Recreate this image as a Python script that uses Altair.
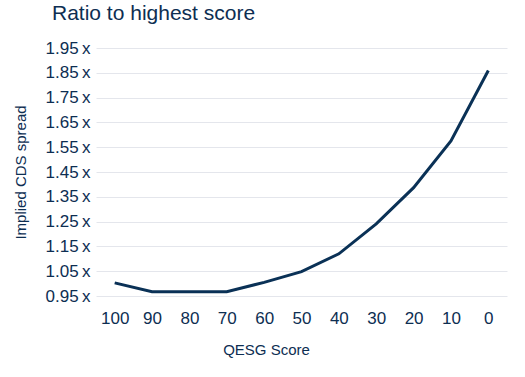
import altair as alt
import pandas as pd

scores = ["100", "90", "80", "70", "60", "50", "40", "30", "20", "10", "0"]
ratios = [1.003, 0.967, 0.967, 0.967, 1.005, 1.048, 1.12, 1.241, 1.387, 1.575, 1.859]
y_ticks = [0.95, 1.05, 1.15, 1.25, 1.35, 1.45, 1.55, 1.65, 1.75, 1.85, 1.95]

df = pd.DataFrame({"score": scores, "ratio": ratios})

TEXT = "#0d2e52"
LINE = "#0a3156"
FONT = "Liberation Sans"

chart = (
    alt.Chart(df)
    .mark_line(color=LINE, strokeWidth=3)
    .encode(
        x=alt.X(
            "score:N",
            sort=scores,
            scale=alt.Scale(type="point", padding=0.5),
            axis=alt.Axis(
                title="QESG Score",
                labelAngle=0,
                labelFontSize=17,
                labelColor=TEXT,
                labelFont=FONT,
                labelPadding=14,
                ticks=False,
                domain=False,
                grid=False,
                titleFontSize=15,
                titleFontWeight="normal",
                titleColor=TEXT,
                titleFont=FONT,
                titlePadding=16,
                titleX=170,
            ),
        ),
        y=alt.Y(
            "ratio:Q",
            scale=alt.Scale(domain=[0.95, 1.95], nice=False, zero=False),
            axis=alt.Axis(
                title="Implied CDS spread",
                values=y_ticks,
                labelExpr="format(datum.value, '.2f') + '\u2009x'",
                labelFontSize=17,
                labelColor=TEXT,
                labelFont=FONT,
                labelPadding=6,
                ticks=False,
                domain=False,
                grid=True,
                gridColor="#e4e6ec",
                gridWidth=1,
                titleFontSize=15,
                titleFontWeight="normal",
                titleColor=TEXT,
                titleFont=FONT,
                titleX=-68,
            ),
        ),
    )
    .properties(
        width=411,
        height=248,
        title=alt.TitleParams(
            "Ratio to highest score",
            anchor="start",
            frame="group",
            fontSize=21,
            fontWeight="normal",
            font=FONT,
            color=TEXT,
            dx=-44,
            offset=15,
        ),
        autosize=alt.AutoSizeParams(type="none"),
        padding={"left": 96, "top": 48, "right": 18, "bottom": 81},
    )
    .configure_view(stroke=None)
)

chart.save("out.html", embed_options={"renderer": "svg", "actions": False})
